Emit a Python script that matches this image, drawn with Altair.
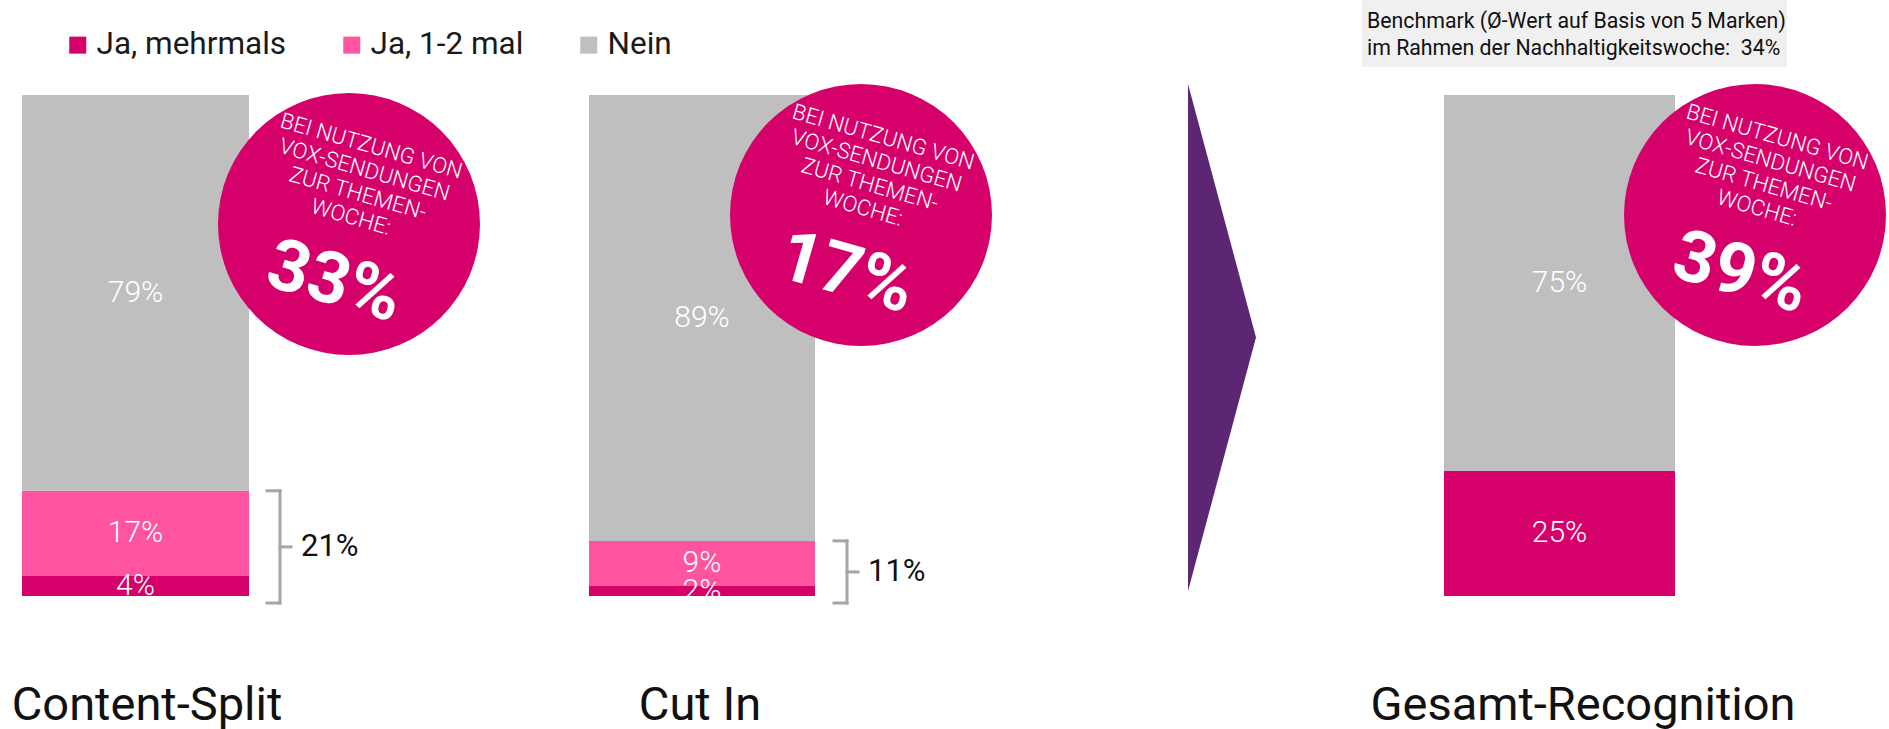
import altair as alt
import pandas as pd

# ---------------- data ----------------
categories = ["Content-Split", "Cut In", "Gesamt-Recognition"]
series = ["Ja, mehrmals", "Ja, 1-2 mal", "Nein"]
ja_mehrmals = [4, 2, 25]
ja_1_2_mal = [17, 9, None]
nein = [79, 89, 75]
circle_values = ["33%", "17%", "39%"]
circle_caption = ["BEI NUTZUNG VON", "VOX-SENDUNGEN", "ZUR THEMEN-", "WOCHE:"]
benchmark_lines = [
    "Benchmark (\u00d8-Wert auf Basis von 5 Marken)",
    "im Rahmen der Nachhaltigkeitswoche:\u00a0 34%",
]

# ---------------- styles ----------------
MAGENTA = "#D5006A"
PINK = "#FF55A0"
GREY = "#BFBFBF"
PURPLE = "#5C2673"
BRACKET = "#A6A6A6"
colors = [MAGENTA, PINK, GREY]
FONT = "Roboto"
PLOT_H = 501
TOTAL_W = 1889
TOP = 95
CANVAS_H = 729
OVERHANG = 1.4

rows = []
for i, cat in enumerate(categories):
    for j, vals in enumerate([ja_mehrmals, ja_1_2_mal, nein]):
        if vals[i] is not None:
            rows.append({"cat": cat, "series": series[j], "idx": j, "value": vals[i]})
bars_df = pd.DataFrame(rows)

color_enc = alt.Color(
    "series:N",
    scale=alt.Scale(domain=series, range=colors),
    legend=alt.Legend(
        title=None, orient="none", direction="horizontal",
        legendX=62, legendY=-66,
        symbolType="square", symbolSize=289, symbolStrokeWidth=0,
        labelFontSize=31.5, labelFont=FONT, labelColor="#1A1A1A",
        labelOffset=3, columnPadding=49, labelLimit=0,
    ),
)

yscale = alt.Scale(domain=[0, 100], nice=False, zero=True)


def band_params(width, bar_w, left):
    """paddings / align so that a single band of bar_w px starts `left` px into the panel"""
    r = bar_w / width
    po = (1 / r - 1) / 2
    if po <= 1:
        pi = 0.0
    else:
        po = 1.0
        pi = 1 - 2 * r / (1 - r)
    return dict(paddingInner=pi, paddingOuter=po, align=left / (width - bar_w))


def panel(i, width, bar_w, bar_left, label_offset, label_padding, cx, cy,
          bracket_x=None, extra=None):
    cat = categories[i]
    df = bars_df[bars_df.cat == cat]
    x = alt.X(
        "cat:N",
        scale=alt.Scale(domain=[cat], **band_params(width, bar_w, bar_left)),
        axis=alt.Axis(title=None, labelAngle=0, domain=False, ticks=False, tickSize=0,
                      grid=False, labelFontSize=47, labelFont=FONT, labelColor="#111111",
                      labelPadding=label_padding, labelOffset=label_offset, labelLimit=0,
                      zindex=1),
    )
    bars = alt.Chart(df).mark_bar().encode(
        x=x,
        y=alt.Y("value:Q", stack="zero", scale=yscale, axis=None),
        color=color_enc,
        order=alt.Order("idx:Q", sort="ascending"),
    )
    labels = (
        alt.Chart(df)
        .transform_stack(stack="value", groupby=["cat"], as_=["v0", "v1"],
                         sort=[alt.SortField("idx", order="ascending")])
        .transform_calculate(mid="(datum.v0 + datum.v1) / 2", txt="datum.value + '%'")
        .mark_text(color="white", fontSize=30, fontWeight=300, font=FONT, baseline="middle")
        .encode(x=x, y=alt.Y("mid:Q", scale=yscale, axis=None), text="txt:N")
    )
    cdf = pd.DataFrame({"v": [circle_values[i]]})
    circ = alt.Chart(cdf).mark_point(
        filled=True, shape="circle", size=262 * 262, color=MAGENTA, opacity=1, strokeWidth=0
    ).encode(x=alt.value(cx), y=alt.value(cy))
    cap = alt.Chart(cdf).mark_text(
        text=circle_caption, angle=16, dx=0, dy=-81, lineHeight=24.6, fontSize=22,
        fontWeight=300, font=FONT, color="white", align="center", baseline="middle",
    ).encode(x=alt.value(cx), y=alt.value(cy))
    big = alt.Chart(cdf).mark_text(
        angle=16, dx=2, dy=60, fontSize=72, fontWeight="bold", font=FONT, color="white",
        align="center", baseline="middle",
    ).encode(x=alt.value(cx), y=alt.value(cy), text="v:N")

    layers = []
    if extra:
        layers += extra.get("before", [])
    layers += [bars, labels, circ, cap, big]

    if bracket_x is not None:
        bdf = pd.DataFrame({"top": [ja_mehrmals[i] + ja_1_2_mal[i]]})
        base = alt.Chart(bdf).transform_calculate(
            bottom=f"-{OVERHANG}",
            mid=f"(datum.top - {OVERHANG}) / 2",
            txt="datum.top + '%'",
        )
        rule = dict(color=BRACKET, strokeWidth=3, strokeCap="square")
        vert = base.mark_rule(**rule).encode(
            x=alt.value(bracket_x),
            y=alt.Y("top:Q", scale=yscale, axis=None), y2="bottom:Q")
        topr = base.mark_rule(**rule).encode(
            x=alt.value(bracket_x - 13), x2=alt.value(bracket_x),
            y=alt.Y("top:Q", scale=yscale, axis=None))
        botr = base.mark_rule(**rule).encode(
            x=alt.value(bracket_x - 13), x2=alt.value(bracket_x),
            y=alt.Y("bottom:Q", scale=yscale, axis=None))
        tip = base.mark_rule(**rule).encode(
            x=alt.value(bracket_x), x2=alt.value(bracket_x + 11),
            y=alt.Y("mid:Q", scale=yscale, axis=None))
        btxt = base.mark_text(
            fontSize=31, font=FONT, color="#111111", align="left", baseline="middle"
        ).encode(x=alt.value(bracket_x + 21), y=alt.Y("mid:Q", scale=yscale, axis=None),
                 text="txt:N")
        layers += [vert, topr, botr, tip, btxt]

    if extra:
        layers += extra.get("after", [])

    return alt.layer(*layers).properties(width=width, height=PLOT_H)


one = pd.DataFrame({"k": [0]})

# invisible frame fixing the canvas extent
frame = alt.Chart(one).mark_rect(color="white", opacity=0).encode(
    x=alt.value(0), x2=alt.value(TOTAL_W), y=alt.value(-TOP), y2=alt.value(CANVAS_H - TOP)
)

# arrow and benchmark box (panel 3 coordinates)
arrow = alt.Chart(one).mark_point(
    filled=True, shape="M -0.1341 -1 L 0.1341 0 L -0.1341 1 Z", size=507 * 507,
    color=PURPLE, opacity=1, strokeWidth=0,
).encode(x=alt.value(72), y=alt.value(242.5))
bench_box = alt.Chart(one).mark_rect(color="#F0F0F0").encode(
    x=alt.value(212), x2=alt.value(637), y=alt.value(-95), y2=alt.value(-28)
)
bench_text = alt.Chart(one).mark_text(
    text=benchmark_lines, fontSize=21.3, font=FONT, color="#111111", align="left",
    baseline="middle", lineHeight=27,
).encode(x=alt.value(217), y=alt.value(-73))

W1, W2, W3 = 420, 730, 739
p1 = panel(0, W1, 227, 22, 11.5, 86, 349, 129, bracket_x=280, extra={"before": [frame]})
p2 = panel(1, W2, 226, 169, -2, 86, 441, 120, bracket_x=427)
p3 = panel(2, W3, 231, 294, 23.5, 86, 605, 120,
           extra={"before": [arrow, bench_box, bench_text]})

chart = (
    alt.hconcat(p1, p2, p3, spacing=0, bounds="flush")
    .properties(padding=0, background="white")
    .configure(font=FONT)
    .configure_view(stroke=None)
)

chart.save("out.html", embed_options={"renderer": "svg", "actions": False})
